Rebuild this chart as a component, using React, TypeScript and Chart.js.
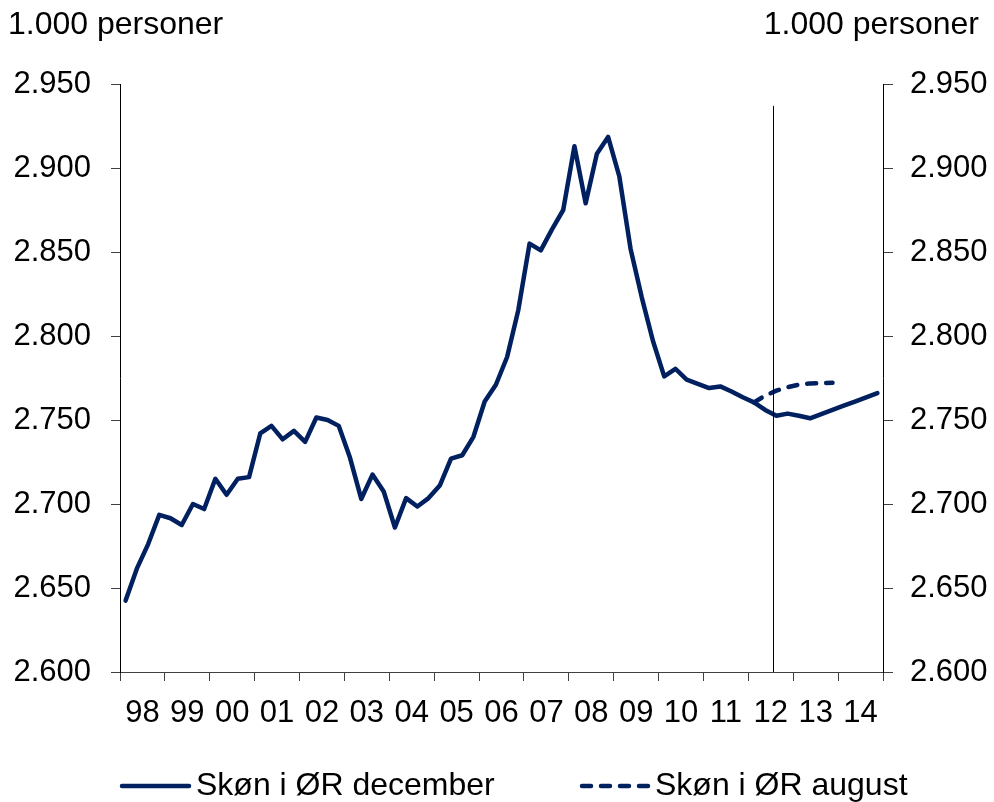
import React, { useEffect, useRef } from "react";
import { Chart, registerables } from "chart.js";

Chart.register(...registerables);

// 1998Q1 .. 2014Q4 (quarterly)
const yearLabels = ["98", "99", "00", "01", "02", "03", "04", "05", "06", "07", "08", "09", "10", "11", "12", "13", "14"];

const decemberValues: number[] = [
  2642.5, 2661.5, 2676, 2693.5,
  2691.5, 2687.5, 2700, 2697,
  2715, 2705.5, 2715, 2716,
  2742, 2746.5, 2738.5, 2743.5,
  2737, 2751.5, 2750, 2746.5,
  2727.5, 2703, 2717.5, 2707.5,
  2686, 2703.5, 2698.5, 2703.5,
  2711, 2727, 2729, 2740,
  2761, 2771, 2787.5, 2815.5,
  2855, 2851, 2863.5, 2875,
  2913, 2879, 2908.5, 2918.5,
  2895, 2852, 2823, 2797,
  2776, 2780.5, 2774, 2771.5,
  2769, 2770, 2767, 2763.5,
  2760.5, 2756, 2752.5, 2753.8,
  2752.5, 2751, 2753.5, 2756,
  2758.5, 2761, 2763.5, 2766,
];

// August estimate: 2012Q1 .. 2013Q4
const augustStartIndex = 56;
const augustValues: number[] = [2760.5, 2764.5, 2767.5, 2769.5, 2771, 2771.8, 2772, 2772.2];

const seriesLabels = ["Skøn i ØR december", "Skøn i ØR august"];
const unitLabel = "1.000 personer";

const yMin = 2600;
const yMax = 2950;
const yStep = 50;
const dividerX = 58.2; // forecast divider (quarter index)
const dividerTop = 2937;

const NAVY = "#002060";
const FONT = "'Liberation Sans', Arial, sans-serif";
const FS = 31;
const FS_TEXT = 32;

const fmt = (v: number) => {
  const th = Math.floor(v / 1000);
  const rest = Math.round(v % 1000);
  return th + "." + String(rest).padStart(3, "0");
};

const extrasPlugin = {
  id: "extras",
  afterDatasetsDraw(chart: any) {
    const { ctx, scales } = chart;
    const x = scales.x.getPixelForValue(dividerX);
    const yTop = scales.y.getPixelForValue(dividerTop);
    const yBot = scales.y.getPixelForValue(yMin);
    ctx.save();
    ctx.strokeStyle = "#000";
    ctx.lineWidth = 1;
    ctx.beginPath();
    ctx.moveTo(Math.round(x) + 0.5, yTop);
    ctx.lineTo(Math.round(x) + 0.5, yBot);
    ctx.stroke();
    ctx.restore();
  },
  afterDraw(chart: any) {
    const { ctx } = chart;
    ctx.save();
    ctx.font = `${FS_TEXT}px ${FONT}`;
    ctx.fillStyle = "#000";
    ctx.textBaseline = "alphabetic";
    ctx.textAlign = "left";
    ctx.fillText(unitLabel, 8, 34);
    ctx.textAlign = "right";
    ctx.fillText(unitLabel, 979, 34);

    // legend
    const items = [
      { x0: 120, x1: 191, tx: 196, dash: [] as number[] },
      { x0: 580, x1: 650, tx: 655, dash: [9, 10] },
    ];
    items.forEach((it, i) => {
      const ds = chart.data.datasets[i];
      ctx.strokeStyle = ds.borderColor;
      ctx.lineWidth = 4.5;
      ctx.lineCap = "round";
      ctx.setLineDash(it.dash);
      ctx.beginPath();
      ctx.moveTo(it.x0 + 2, 786);
      ctx.lineTo(it.x1 - 2, 786);
      ctx.stroke();
      ctx.setLineDash([]);
      ctx.textAlign = "left";
      ctx.fillStyle = "#000";
      ctx.fillText(ds.label, it.tx, 795);
    });
    ctx.restore();
  },
};

export default function App() {
  const ref = useRef<HTMLCanvasElement | null>(null);

  useEffect(() => {
    if (!ref.current) return;
    const decData = decemberValues.map((v, i) => ({ x: i + 0.5, y: v }));
    const augData = augustValues.map((v, i) => ({ x: augustStartIndex + i + 0.5, y: v }));
    const nQ = yearLabels.length * 4;

    const yTicks = {
      color: "#000",
      font: { family: FONT, size: FS },
      stepSize: yStep,
      callback: (v: any) => fmt(Number(v)),
    };

    const chart = new Chart(ref.current, {
      type: "line",
      data: {
        datasets: [
          {
            label: seriesLabels[0],
            data: decData,
            borderColor: NAVY,
            backgroundColor: NAVY,
            borderWidth: 4.5,
            pointRadius: 0,
            borderJoinStyle: "round",
            borderCapStyle: "round",
            tension: 0,
            yAxisID: "y",
          },
          {
            label: seriesLabels[1],
            data: augData,
            borderColor: NAVY,
            backgroundColor: NAVY,
            borderWidth: 4.5,
            borderDash: [9, 10],
            pointRadius: 0,
            borderJoinStyle: "round",
            borderCapStyle: "round",
            tension: 0,
            yAxisID: "y",
          },
        ],
      },
      options: {
        animation: false,
        responsive: false,
        maintainAspectRatio: false,
        layout: { padding: { top: 84, left: 0, right: 0, bottom: 0 } },
        plugins: {
          legend: { display: false },
          tooltip: { enabled: false },
          title: { display: false },
        },
        scales: {
          x: {
            type: "linear",
            min: 0,
            max: nQ,
            afterBuildTicks: (scale: any) => {
              const t = [];
              for (let v = 0; v <= nQ; v += 2) t.push({ value: v });
              scale.ticks = t;
            },
            afterFit: (scale: any) => {
              scale.height = 130;
            },
            ticks: {
              autoSkip: false,
              maxRotation: 0,
              minRotation: 0,
              padding: 14,
              color: "#000",
              font: { family: FONT, size: FS },
              callback: (v: any) => {
                const n = Number(v);
                if (n % 4 === 2) return yearLabels[(n - 2) / 4];
                return "";
              },
            },
            grid: {
              drawOnChartArea: false,
              drawTicks: true,
              tickLength: 9,
              tickColor: (c: any) => (c.tick && c.tick.value % 4 === 0 ? "#404040" : "rgba(0,0,0,0)"),
              lineWidth: 1,
            },
            border: { display: true, color: "#404040", width: 1 },
          },
          y: {
            type: "linear",
            position: "left",
            min: yMin,
            max: yMax,
            afterFit: (scale: any) => {
              scale.width = 120;
            },
            ticks: { ...yTicks, padding: 20 },
            grid: { drawOnChartArea: false, tickLength: 9, tickColor: "#404040" },
            border: { display: true, color: "#000", width: 1 },
          },
          y2: {
            type: "linear",
            position: "right",
            min: yMin,
            max: yMax,
            afterFit: (scale: any) => {
              scale.width = 111;
            },
            ticks: { ...yTicks, padding: 17 },
            grid: { drawOnChartArea: false, tickLength: 10, tickColor: "#404040" },
            border: { display: true, color: "#000", width: 1 },
          },
        },
      },
      plugins: [extrasPlugin],
    } as any);
    return () => chart.destroy();
  }, []);

  return (
    <div style={{ position: "fixed", left: 0, top: 0, width: 994, height: 802, background: "#fff" }}>
      <canvas ref={ref} width={994} height={802} style={{ display: "block" }} />
    </div>
  );
}
